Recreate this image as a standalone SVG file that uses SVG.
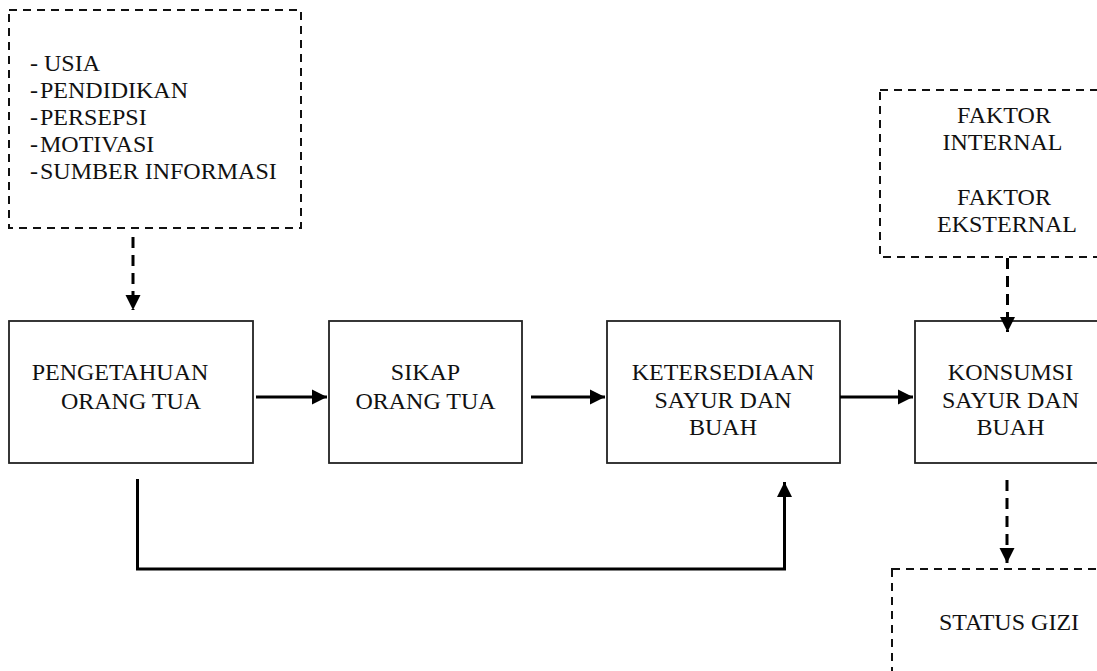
<svg xmlns="http://www.w3.org/2000/svg" width="1097" height="671" viewBox="0 0 1097 671">
<style>
.box{fill:#fff;stroke:#222;stroke-width:1.8}
.dbox{fill:none;stroke:#111;stroke-width:2;stroke-dasharray:8 6}
.t{font-family:"Liberation Serif","Times New Roman",serif;font-size:24px;fill:#111}
.c{text-anchor:middle}
.tight{word-spacing:-4px}
.ln{fill:none;stroke:#000;stroke-width:3}
.dl{fill:none;stroke:#000;stroke-width:3;stroke-dasharray:11 7}
</style>
<defs>
<marker id="ah" markerWidth="16" markerHeight="16" viewBox="0 0 16 16" refX="15" refY="8" orient="auto" markerUnits="userSpaceOnUse">
<path d="M0,0.5 L15,8 L0,15.5 Z" fill="#000"/>
</marker>
</defs>
<rect width="1097" height="671" fill="#fff"/>
<g id="factors">
<rect class="dbox" x="9" y="10" width="292" height="218"/>
<text class="t" x="30" y="70.5">- USIA</text>
<text class="t" x="30" y="97.5"><tspan class="tight">- </tspan>PENDIDIKAN</text>
<text class="t" x="30" y="124.5"><tspan class="tight">- </tspan>PERSEPSI</text>
<text class="t" x="30" y="151.5"><tspan class="tight">- </tspan>MOTIVASI</text>
<text class="t" x="30" y="178.5"><tspan class="tight">- </tspan>SUMBER INFORMASI</text>
</g>
<g id="faktor">
<rect class="dbox" x="880" y="90" width="230" height="167"/>
<text class="t c" x="1004" y="122.5">FAKTOR</text>
<text class="t c" x="1002.5" y="150">INTERNAL</text>
<text class="t c" x="1004" y="205">FAKTOR</text>
<text class="t c" x="1007" y="231.5">EKSTERNAL</text>
</g>
<g id="pengetahuan">
<rect class="box" x="9" y="321" width="244" height="142"/>
<text class="t c" x="120" y="380">PENGETAHUAN</text>
<text class="t c" x="131" y="409">ORANG TUA</text>
</g>
<g id="sikap">
<rect class="box" x="329" y="321" width="193" height="142"/>
<text class="t c" x="425.5" y="380">SIKAP</text>
<text class="t c" x="425.5" y="409">ORANG TUA</text>
</g>
<g id="ketersediaan">
<rect class="box" x="607" y="321" width="233" height="142"/>
<text class="t c" x="723" y="380">KETERSEDIAAN</text>
<text class="t c" x="723" y="408">SAYUR DAN</text>
<text class="t c" x="723" y="435">BUAH</text>
</g>
<g id="konsumsi">
<rect class="box" x="915" y="321" width="192" height="142"/>
<text class="t c" x="1010.5" y="380">KONSUMSI</text>
<text class="t c" x="1010.5" y="408">SAYUR DAN</text>
<text class="t c" x="1010.5" y="435">BUAH</text>
</g>
<g id="status">
<rect class="dbox" x="892" y="569" width="220" height="120"/>
<text class="t c" x="1009" y="630">STATUS GIZI</text>
</g>
<g id="connectors">
<path class="dl" d="M133,237 L133,310" marker-end="url(#ah)"/>
<path class="ln" d="M256,397 L327,397" marker-end="url(#ah)"/>
<path class="ln" d="M531,397 L605,397" marker-end="url(#ah)"/>
<path class="ln" d="M840,397 L913,397" marker-end="url(#ah)"/>
<path class="ln" d="M137.5,479 L137.5,569 L784.5,569 L784.5,482" stroke-width="2.2" marker-end="url(#ah)"/>
<path class="dl" d="M1007.5,258 L1007.5,332" marker-end="url(#ah)"/>
<path class="dl" d="M1007,480 L1007,563" marker-end="url(#ah)"/>
</g>
</svg>
